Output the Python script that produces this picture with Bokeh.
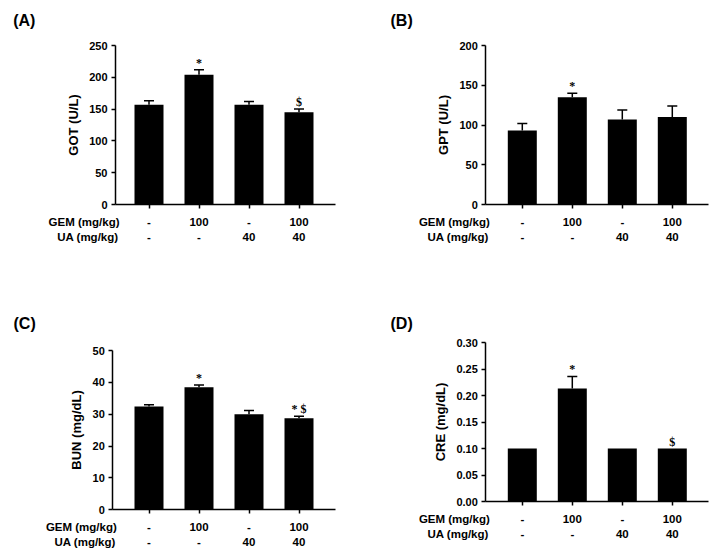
from bokeh.plotting import figure
from bokeh.models import Range1d, FixedTicker, Label, LabelSet, ColumnDataSource, PrintfTickFormatter, LinearAxis
from bokeh.layouts import row, column
from bokeh.embed import file_html
from bokeh.resources import INLINE

# ---------------- data ----------------
groups = [0, 1, 2, 3]
gem_labels = ["-", "100", "-", "100"]
ua_labels = ["-", "-", "40", "40"]

got_mean = [157, 204, 157, 145]
got_sem = [6, 8, 5, 5]
got_sig = ["", "*", "", "$"]
got_ticks = [0, 50, 100, 150, 200, 250]

gpt_mean = [93, 135, 107, 110]
gpt_sem = [9, 5, 12, 14]
gpt_sig = ["", "*", "", ""]
gpt_ticks = [0, 50, 100, 150, 200]

bun_mean = [32.4, 38.5, 30.0, 28.7]
bun_sem = [0.6, 0.7, 1.2, 0.7]
bun_sig = ["", "*", "", "* $"]
bun_ticks = [0, 10, 20, 30, 40, 50]

cre_mean = [0.10, 0.213, 0.10, 0.10]
cre_sem = [0.0, 0.023, 0.0, 0.0]
cre_sig = ["", "*", "", "$"]
cre_ticks = [0.0, 0.05, 0.10, 0.15, 0.20, 0.25, 0.30]

FONT = "Liberation Sans"
GROUP_PX = 50.0  # pixel spacing between bar centres


def panel(tag, ylabel, mean, sem, sig, yticks, fmt, W, H, x0, ax, right, oy, fh, tag_px):
    ymax = yticks[-1]
    sx = GROUP_PX
    sy = fh / ymax
    p = figure(width=W, height=H, output_backend="svg", toolbar_location=None,
               x_range=Range1d(-x0 / sx, (W - x0) / sx),
               y_range=Range1d(-(H - oy) / sy, oy / sy),
               x_axis_location=None, y_axis_location=None,
               min_border=0, min_border_left=0, min_border_right=0,
               min_border_top=0, min_border_bottom=0)
    p.outline_line_color = None
    p.background_fill_color = "white"
    p.border_fill_color = "white"
    p.grid.visible = False

    yax_x = (ax - x0) / sx
    xend = (right - x0) / sx

    p.vbar(x=groups, top=mean, bottom=0, width=0.58, fill_color="black", line_color=None)

    xs = [g for g, s in zip(groups, sem) if s > 0]
    lo = [m for m, s in zip(mean, sem) if s > 0]
    hi = [m + s for m, s in zip(mean, sem) if s > 0]
    p.segment(x0=xs, y0=lo, x1=xs, y1=hi, line_color="black", line_width=1.5)
    p.segment(x0=[x - 0.1 for x in xs], y0=hi, x1=[x + 0.1 for x in xs], y1=hi,
              line_color="black", line_width=1.5)

    sxs = [g for g, t in zip(groups, sig) if t]
    sys_ = [m + s for m, s, t in zip(mean, sem, sig) if t]
    st = [t for t in sig if t]
    src = ColumnDataSource(dict(x=sxs, y=sys_, text=st))
    p.add_layout(LabelSet(x="x", y="y", text="text", source=src, y_offset=3,
                          text_align="center", text_baseline="alphabetic",
                          text_font=FONT, text_font_style="bold", text_font_size="12px",
                          text_color="black"))

    # y axis
    ya = LinearAxis(fixed_location=yax_x, bounds=(0, ymax))
    ya.ticker = FixedTicker(ticks=yticks)
    ya.formatter = PrintfTickFormatter(format=fmt)
    ya.axis_label = ylabel
    ya.axis_label_text_font = FONT
    ya.axis_label_text_font_style = "bold"
    ya.axis_label_text_font_size = "13px"
    ya.axis_label_text_color = "black"
    ya.axis_label_standoff = 5
    ya.major_label_text_font = FONT
    ya.major_label_text_font_style = "bold"
    ya.major_label_text_font_size = "11px"
    ya.major_label_text_color = "black"
    ya.major_label_standoff = 4
    ya.major_tick_out = 4
    ya.major_tick_in = 0
    ya.minor_tick_out = 0
    ya.minor_tick_in = 0
    ya.axis_line_width = 1.5
    ya.major_tick_line_width = 1.5
    p.add_layout(ya, "left")

    # x axis
    xa = LinearAxis(fixed_location=0, bounds=(yax_x, xend))
    xa.ticker = FixedTicker(ticks=groups)
    xa.major_label_overrides = {g: "" for g in groups}
    xa.major_tick_out = 4
    xa.major_tick_in = 0
    xa.minor_tick_out = 0
    xa.minor_tick_in = 0
    xa.axis_line_width = 1.5
    xa.major_tick_line_width = 1.5
    p.add_layout(xa, "below")

    common = dict(text_font=FONT, text_font_style="bold", text_font_size="11.5px",
                  text_color="black", text_baseline="middle")
    for g, gl, ul in zip(groups, gem_labels, ua_labels):
        p.add_layout(Label(x=g, y=0, y_offset=-17, text=gl, text_align="center", **common))
        p.add_layout(Label(x=g, y=0, y_offset=-32, text=ul, text_align="center", **common))
    p.add_layout(Label(x=yax_x, y=0, x_offset=4, y_offset=-17, text="GEM (mg/kg)",
                       text_align="right", **common))
    p.add_layout(Label(x=yax_x, y=0, x_offset=3, y_offset=-32, text="UA (mg/kg)",
                       text_align="right", **common))

    tx, ty = tag_px
    p.add_layout(Label(x=(tx - x0) / sx, y=(oy - ty) / sy, text=tag,
                       text_align="left", text_baseline="middle", text_font=FONT,
                       text_font_style="bold", text_font_size="16px", text_color="black"))
    return p


pA = panel("(A)", "GOT (U/L)", got_mean, got_sem, got_sig, got_ticks, "%d",
           361, 280, 148.5, 115, 335, 204, 159, (12.7, 20))
pB = panel("(B)", "GPT (U/L)", gpt_mean, gpt_sem, gpt_sig, gpt_ticks, "%d",
           360, 280, 160.8, 124.3, 346.7, 204, 159, (29, 20))
pC = panel("(C)", "BUN (mg/dL)", bun_mean, bun_sem, bun_sig, bun_ticks, "%d",
           361, 278, 148.5, 112.3, 335, 229.3, 159.3, (13, 43))
pD = panel("(D)", "CRE (mg/dL)", cre_mean, cre_sem, cre_sig, cre_ticks, "%.2f",
           360, 278, 160.8, 124.3, 346.7, 221, 159, (29, 43))

layout = column(row(pA, pB), row(pC, pD))
open("out.html", "w").write(file_html(layout, INLINE))
